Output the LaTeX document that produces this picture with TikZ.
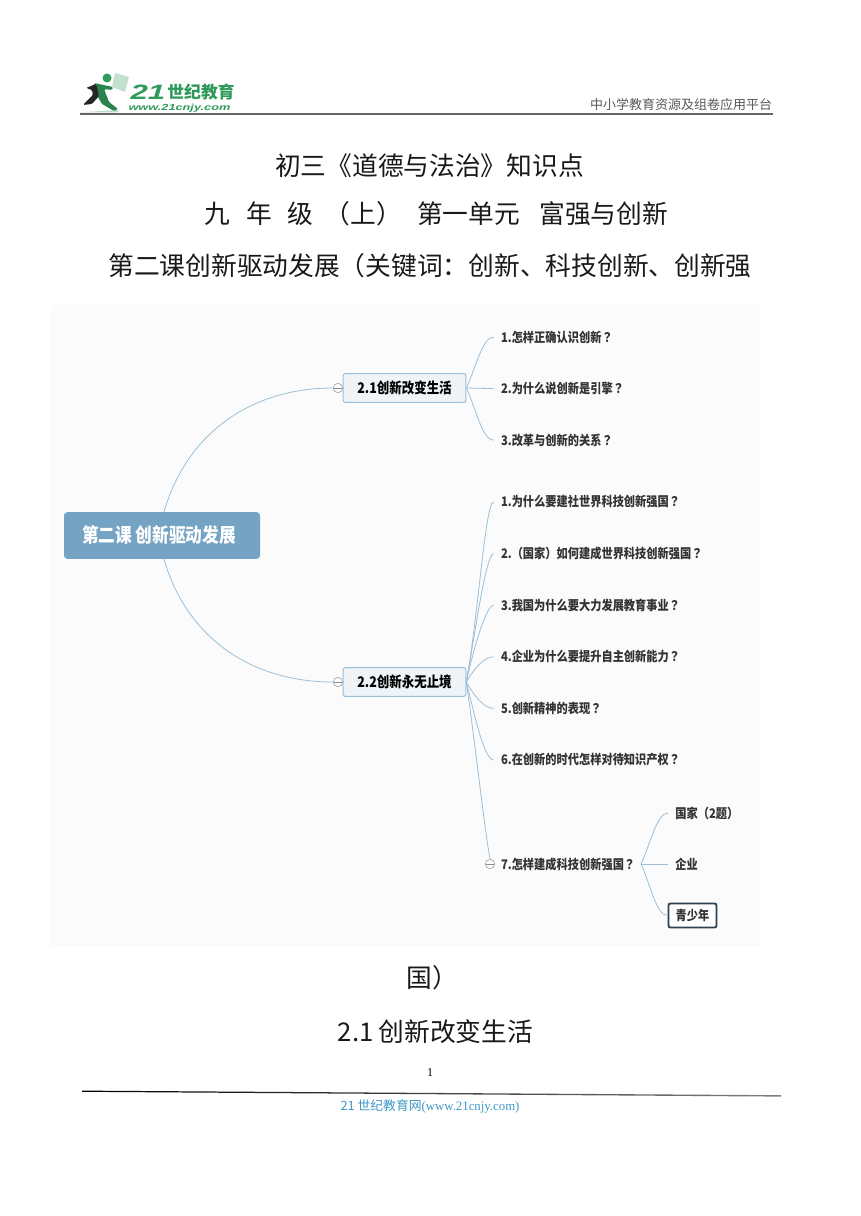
\documentclass[tikz,border=0pt]{standalone}
\usepackage{fontspec}
\setmainfont{Noto Sans CJK SC}
\newfontfamily\serifpart{Liberation Serif}
\newfontfamily\logopart{Liberation Sans}
\newfontfamily\mindhead[FakeStretch=.85]{Noto Sans CJK SC}
\newfontfamily\mindmark[FakeStretch=.85]{Noto Sans CJK TC}
\newcommand{\askmark}{{\mindmark\bfseries ？}}
\definecolor{rootblue}{HTML}{75A3C3}
\definecolor{branchblue}{HTML}{9DBFD8}
\definecolor{topicfill}{HTML}{EEF4F8}
\definecolor{logogreen}{HTML}{2F9A5B}
\definecolor{footerblue}{HTML}{3F97C6}
\tikzset{every node/.style={align=center, inner sep=0pt},
    titleline/.style={font=\fontsize{19.3pt}{22pt}\selectfont, text=black!90},
    rootbox/.style={fill=rootblue, rounded corners=2.5pt, minimum width=147pt, minimum height=35pt, text=white, font=\mindhead\fontsize{14.7pt}{17pt}\bfseries\selectfont},
    topicbox/.style={draw=branchblue, fill=topicfill, line width=.8pt, rounded corners=1.5pt, minimum width=92pt, minimum height=21.5pt, font=\mindhead\fontsize{11pt}{13pt}\bfseries\selectfont},
    leaf/.style={text width=180pt, inner xsep=5.25pt, inner ysep=2pt, align=left, font=\mindhead\fontsize{9.9pt}{12pt}\bfseries\selectfont, text=black!80},
    kid/.style={leaf, text width=55pt},
    kidbox/.style={draw=black!60!rootblue, fill=white, line width=1.4pt, rounded corners=1.5pt, minimum width=36pt, minimum height=18pt, font=\mindhead\fontsize{9.9pt}{12pt}\bfseries\selectfont, text=black!80},
    collapse/.style={circle, draw=black!35, fill=white, line width=.5pt, minimum size=7pt, path picture={\draw[black!45] (path picture bounding box.west) -- (path picture bounding box.east);}},
    branch/.style={draw=branchblue, line width=.6pt}}

\begin{document}
\begin{tikzpicture}[x=.75pt, y=-.75pt, node distance=38.7pt]
    \useasboundingbox (0,0) rectangle (860,1216);
    % logo
    \fill[logogreen!35] (78,112.5) -- (118,110) -- (118,112.5) -- cycle;
    \fill[logogreen!30] (115,73) -- (129,77) -- (125,92) -- (112,87) -- cycle;
    \fill[logogreen] (107,78) circle (4.5);
    \fill[logogreen!85!black, rounded corners=1pt] (94,83) -- (113,87) -- (112,90) -- (104,89) -- (109,102) -- (118,109) -- (114,111) -- (102,104) -- (95,92) -- cycle;
    \fill[black!85, rounded corners=1pt] (86,88) -- (96,84) -- (99,96) -- (92,104) -- (83,105) -- (88,100) -- (93,95) -- (92,90) -- cycle;
    \node [font=\logopart\fontsize{15.6pt}{16pt}\bfseries\itshape\selectfont, text=logogreen, xscale=1.5, transform shape] (logonum) at (148,92) {21};
    \node [font=\fontsize{12.6pt}{14pt}\bfseries\selectfont, text=logogreen] (logoname) at (201,92.5) {世纪教育};
    \node [font=\logopart\fontsize{6.6pt}{8pt}\bfseries\itshape\selectfont, text=logogreen, xscale=1.45, transform shape] (logourl) at (179.5,108) {www.21cnjy.com};
    \node [font=\fontsize{9.75pt}{12pt}\selectfont, text=black!65] (platform) at (681,105) {中小学教育资源及组卷应用平台};
    \fill[black!60] (80,113.2) rectangle (773,115);

    \node [titleline] (title1) at (429.5,166) {初三《道德与法治》知识点};
    \node [titleline] (title2) at (436.5,214) {九\hspace{.6em}年\hspace{.6em}级\hspace{.45em}（上）\hspace{.6em}第一单元\hspace{.75em}富强与创新};
    \node [titleline] (title3) at (430,266) {第二课创新驱动发展（关键词：创新、科技创新、创新强};

    \fill[black!1.5] (51,305) rectangle (760,946);

    \node [rootbox] (root) at (162,535.5) {第二课 创新驱动发展\hspace{4.5pt}};
    \node [topicbox] (t1) at (404.5,388) {2.1创新改变生活};
    \node [topicbox] (t2) at (404.5,682) {2.2创新永无止境};
    \node [collapse] (f1) at (338,388) {};
    \node [collapse] (f2) at (338,682) {};

    \node [leaf] (a1) at (621,337) {1.怎样正确认识创新\askmark};
    \node [leaf] (a2) [below of = a1] {2.为什么说创新是引擎\askmark};
    \node [leaf] (a3) [below of = a2] {3.改革与创新的关系\askmark};

    \node [leaf] (b1) at (621,502) {1.为什么要建社世界科技创新强国\askmark};
    \node [leaf] (b2) [below of = b1] {2.（国家）如何建成世界科技创新强国\askmark};
    \node [leaf] (b3) [below of = b2] {3.我国为什么要大力发展教育事业\askmark};
    \node [leaf] (b4) [below of = b3] {4.企业为什么要提升自主创新能力\askmark};
    \node [leaf] (b5) [below of = b4] {5.创新精神的表现\askmark};
    \node [leaf] (b6) [below of = b5] {6.在创新的时代怎样对待知识产权\askmark};
    \node [leaf] (b7) at (621,864) {7.怎样建成科技创新强国\askmark};
    \node [collapse] (f7) at (490,864) {};
    \coordinate (fan) at (641,864);

    \node [kid] (c1) at (712,813) {国家（2题）};
    \node [kid] (c2) at (712,864) {企业};
    \node [kidbox] (c3) at (692.5,915.5) {青少年};

    \path[branch] ([xshift=1.5pt]root.north) edge [out=74, in=180] (f1.west)
        ([xshift=1.5pt]root.south) edge [out=-74, in=180] (f2.west);
    \path[branch] (f1) edge (t1) (f2) edge (t2);
    \path[branch] (t1.east) edge [out=65, in=180, in looseness=.5] (a1.west)
        (t1.east) edge (a2.west)
        (t1.east) edge [out=-65, in=180, in looseness=.5] (a3.west);
    \path[branch] (t2.east) edge [out=80, in=180, in looseness=.12] (b1.west)
        (t2.east) edge [out=80, in=180, in looseness=.15] (b2.west)
        (t2.east) edge [out=78, in=180, in looseness=.25] (b3.west)
        (t2.east) edge [out=60, in=180, in looseness=.7] (b4.west)
        (t2.east) edge [out=-60, in=180, in looseness=.7] (b5.west)
        (t2.east) edge [out=-76, in=180, in looseness=.3] (b6.west)
        (t2.east) edge [out=-82, in=100, in looseness=.5] (f7.north);
    \path[branch] (fan) edge [out=65, in=180, in looseness=.5] (c1.west)
        (fan) edge (c2.west)
        (fan) edge [out=-65, in=180, in looseness=.5] (c3.west);

    \node [titleline] (title4) at (432,978) {国）};
    \node [titleline] (sect) at (435.5,1032) {2.1\hspace{.2em}创新改变生活};
    \node [font=\serifpart\fontsize{9pt}{11pt}\selectfont] (pageno) at (430,1073) {1};
    \shade[left color=black, right color=black!50] (82,1090.6) -- (781,1095.2) -- (781,1096.6) -- (82,1091.8) -- cycle;
    \node [font=\fontsize{9.6pt}{12pt}\selectfont, text=footerblue] (footer) at (430,1106) {21 世纪教育网{\serifpart(www.21cnjy.com)}};
\end{tikzpicture}
\end{document}
